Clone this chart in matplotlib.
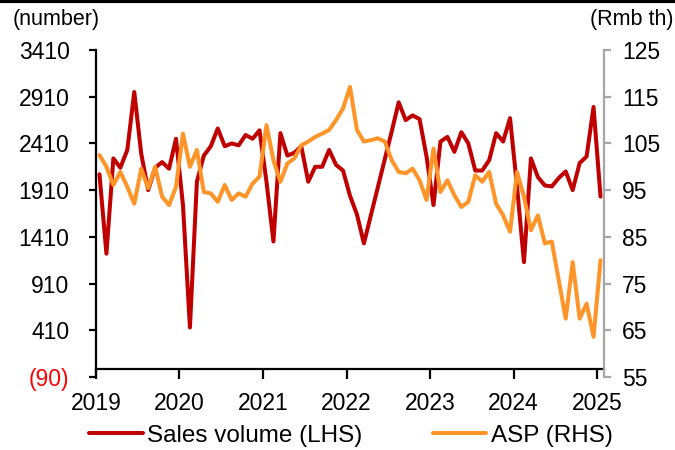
import matplotlib.pyplot as plt
from matplotlib.lines import Line2D
import numpy as np

plt.rcParams['font.family'] = ['Liberation Sans', 'DejaVu Sans']

# Monthly data, Jan 2019 - Jan 2025
sales_volume = [
    2080, 1230, 2250, 2150, 2340, 2960, 2300, 1910, 2150, 2210, 2140, 2460,
    1750, 440, 2000, 2280, 2380, 2570, 2380, 2410, 2390, 2500, 2460, 2550,
    2000, 1360, 2520, 2280, 2310, 2380, 2000, 2160, 2160, 2340, 2180, 2120,
    1850, 1650, 1340, 1640, 1940, 2240, 2540, 2850, 2660, 2710, 2670, 2270,
    1750, 2430, 2480, 2320, 2530, 2410, 2120, 2120, 2230, 2520, 2430, 2680,
    1950, 1140, 2250, 2050, 1960, 1950, 2040, 2110, 1910, 2200, 2270, 2800,
    1840,
]
asp = [
    102.5, 100.0, 96.1, 98.9, 95.7, 92.1, 99.6, 95.4, 100.0, 93.6, 91.8, 95.7,
    107.1, 100.0, 103.6, 94.6, 94.3, 92.5, 96.1, 92.9, 94.3, 93.6, 96.4, 97.9,
    108.9, 101.4, 96.8, 100.7, 101.8, 104.6, 105.4, 106.4, 107.1, 107.9, 110.0, 112.5,
    117.1, 107.9, 105.4, 105.7, 106.1, 105.4, 101.4, 98.9, 98.6, 99.6, 97.1, 92.9,
    103.9, 94.6, 97.1, 93.9, 91.4, 92.5, 98.2, 96.8, 98.9, 92.1, 89.6, 86.1,
    98.9, 93.6, 86.4, 89.6, 83.6, 84.0, 75.7, 67.5, 79.6, 67.5, 70.7, 63.6,
    80.0,
]
years = ['2019', '2020', '2021', '2022', '2023', '2024', '2025']
left_ticks = [-90, 410, 910, 1410, 1910, 2410, 2910, 3410]
right_ticks = [55, 65, 75, 85, 95, 105, 115, 125]

months = np.arange(len(sales_volume))

fig = plt.figure(figsize=(6.75, 4.5), dpi=100)
ax1 = fig.add_axes([0.1422, 0.1622, 0.7526, 0.7267])
ax2 = ax1.twinx()

ax1.plot(months, sales_volume, color='#C00000', lw=2.9,
         solid_joinstyle='round', solid_capstyle='round', label='Sales volume (LHS)')
ax2.plot(months, asp, color='#FF9428', lw=2.9,
         solid_joinstyle='round', solid_capstyle='round', label='ASP (RHS)')

ax1.set_xlim(-0.5, 72.5)
ax1.set_ylim(-90, 3410)
ax2.set_ylim(55, 125)

ax1.set_xticks([-0.5 + 12 * i for i in range(len(years))])
ax1.set_xticklabels(years)
ax1.set_yticks(left_ticks)
ax1.set_yticklabels([f'({abs(v)})' if v < 0 else str(v) for v in left_ticks])
ax1.get_yticklabels()[0].set_color('red')
ax2.set_yticks(right_ticks)

# category axis crosses the left axis at zero
ax1.spines['bottom'].set_position(('data', 0))
ax1.spines['bottom'].set_linewidth(1.6)
ax1.spines['left'].set_linewidth(1.6)
ax1.spines['top'].set_visible(False)
ax1.spines['right'].set_visible(False)
ax2.spines['top'].set_visible(False)
ax2.spines['left'].set_visible(False)
ax2.spines['bottom'].set_visible(False)
ax2.spines['right'].set_color('#A6A6A6')
ax2.spines['right'].set_linewidth(1.6)

ax1.tick_params(axis='y', direction='out', length=5, width=1.6, pad=14, labelsize=16.5)
ax1.tick_params(axis='x', direction='out', length=7, width=1.6, pad=10, labelsize=16.5)
ax2.tick_params(axis='y', direction='out', length=5, width=1.6, color='#A6A6A6',
                labelcolor='black', pad=8, labelsize=16.5)

fig.text(13 / 675, 1 - 20 / 450, '(number)', ha='left', va='center', fontsize=15.5)
fig.text(673 / 675, 1 - 20 / 450, '(Rmb th)', ha='right', va='center', fontsize=15.5)

handles = ax1.get_lines() + ax2.get_lines()
fig.legend(handles, [h.get_label() for h in handles], loc='center',
           bbox_to_anchor=(0.52, 0.032), ncol=2, frameon=False, fontsize=17.5,
           handlelength=2.2, handletextpad=0.18, columnspacing=2.9)

# rule across the top of the figure
fig.add_artist(Line2D([0, 1], [0.997, 0.997], color='black', lw=3,
                      transform=fig.transFigure))

fig.savefig('out.png', dpi=100)
